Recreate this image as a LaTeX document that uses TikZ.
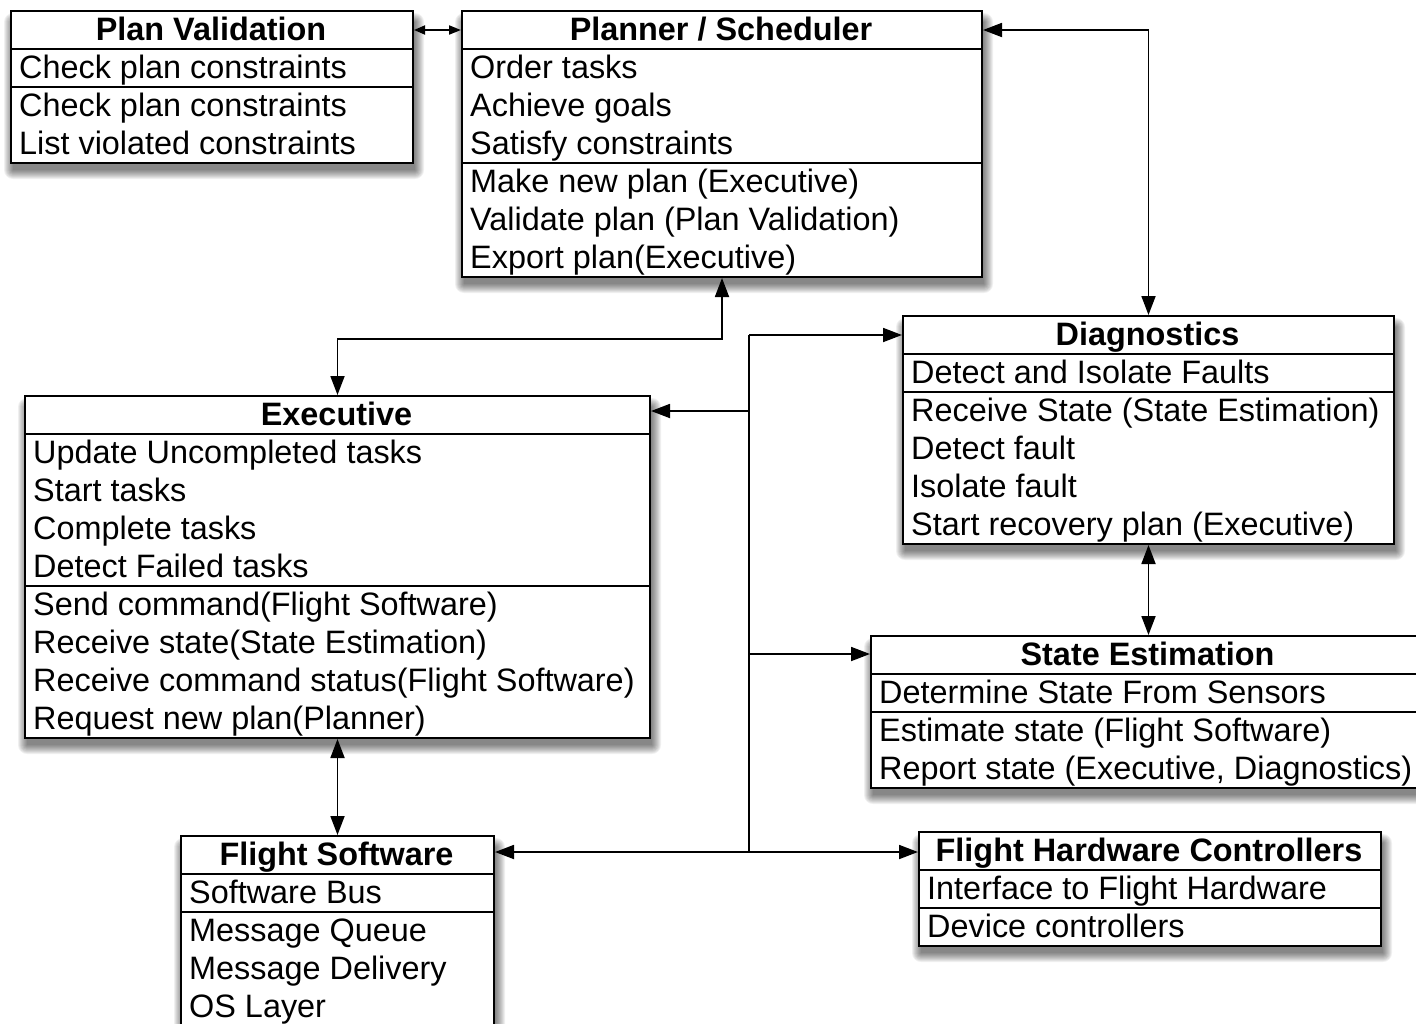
\documentclass[tikz,border=0pt]{standalone}
\usepackage{fontspec}
\setmainfont{Liberation Sans}
\usetikzlibrary{arrows.meta,calc}

\tikzset{
  comp/.style={draw=black, line width=2pt, fill=white, rectangle, anchor=north west, inner sep=0pt},
  hdrtxt/.style={font=\bfseries, anchor=base, inner sep=0pt},
  rowtxt/.style={anchor=base west, inner sep=0pt},
  wire/.style={line width=1.8pt},
  conn/.style={wire, {Triangle[length=19pt,width=14pt]}-{Triangle[length=19pt,width=14pt]}},
  connone/.style={wire, -{Triangle[length=19pt,width=14pt]}},
  connsmall/.style={wire, {Triangle[length=11pt,width=9pt]}-{Triangle[length=12pt,width=9pt]}},
}

% #1 name, #2 left, #3 right, #4 top, #5 rows in part a, #6 rows in part b, #7 title, #8 rows a, #9 rows b
\newcommand\umlbox[9]{%
  \pgfmathsetmacro\ww{#3-#2}%
  \pgfmathsetmacro\ya{#4+38}%
  \pgfmathsetmacro\yb{#4+38*(1+#5)}%
  \pgfmathsetmacro\yc{#4+38*(1+#5+#6)}%
  \pgfmathsetmacro\ha{38*#5}%
  \pgfmathsetmacro\hb{38*#6}%
  \foreach \s in {0,...,9}{\fill[black,opacity=0.06,rounded corners=\s pt] ({#2+3-\s},{#4+12-\s}) rectangle ({#3+3+\s},{\yc+8+\s});}
  \node[comp, minimum width=\ww pt, minimum height=38pt] (#1h) at (#2,#4) {};
  \node[comp, minimum width=\ww pt, minimum height=\ha pt] (#1a) at (#2,\ya) {};
  \node[comp, minimum width=\ww pt, minimum height=\hb pt] (#1b) at (#2,\yb) {};
  \node[hdrtxt] (#1t) at ({(#2+#3)/2},{#4+30}) {#7};
  \foreach \t [count=\k from 0] in {#8} {\node[rowtxt] (#1a\k) at ({#2+9},{\ya+30+38*\k}) {\t};}
  \foreach \t [count=\k from 0] in {#9} {\node[rowtxt] (#1b\k) at ({#2+9},{\yb+30+38*\k}) {\t};}
}

\begin{document}
\begin{tikzpicture}[x=1pt,y=-1pt]
\useasboundingbox (0,0) rectangle (1416,1023);
\fill[white] (0,0) rectangle (1416,1023);
\clip (0,0) rectangle (1416,1023);
\fontsize{32.4}{38}\selectfont

\umlbox{pv}{10}{412}{10}{1}{2}{Plan Validation}{Check plan constraints}{Check plan constraints, List violated constraints}
\umlbox{ps}{461}{981}{10}{3}{3}{Planner / Scheduler}{Order tasks, Achieve goals, Satisfy constraints}{Make new plan (Executive), Validate plan (Plan Validation), Export plan(Executive)}
\umlbox{dg}{902}{1393}{315}{1}{4}{Diagnostics}{Detect and Isolate Faults}{Receive State (State Estimation), Detect fault, Isolate fault, Start recovery plan (Executive)}
\umlbox{ex}{24}{649}{395}{4}{4}{Executive}{Update Uncompleted tasks, Start tasks, Complete tasks, Detect Failed tasks}{Send command(Flight Software), Receive state(State Estimation), Receive command status(Flight Software), Request new plan(Planner)}
\umlbox{se}{870}{1425}{635}{1}{2}{State Estimation}{Determine State From Sensors}{Estimate state (Flight Software), {Report state (Executive, Diagnostics)}}
\umlbox{fs}{180}{493}{835}{1}{3}{Flight Software}{Software Bus}{Message Queue, Message Delivery, OS Layer}
\umlbox{fhc}{918}{1380}{831}{1}{1}{Flight Hardware Controllers}{Interface to Flight Hardware}{Device controllers}

% connectors
\draw[connsmall] (pvh.east) -- (psh.west);
\draw[conn] (psh.east) -| (dgh.north);
\coordinate (k1) at (721,339);
\draw[conn] (psb.south) -- (psb.south |- k1) -| (exh.north);
\draw[conn] (dgb.south) -- (dgb.south |- seh.north);
\draw[conn] (exb.south) -- (exb.south |- fsh.north);

% bus
\coordinate (bt) at (749,335);
\coordinate (be) at (749,411);
\coordinate (bs) at (749,654);
\coordinate (bb) at (749,852);
\draw[wire] (bt) -- (bb);
\draw[connone] (bt) -- (bt -| dgh.west);
\draw[connone] (be) -- (be -| exh.east);
\draw[connone] (bs) -- (bs -| seh.west);
\draw[connone] (bb) -- (bb -| fsh.east);
\draw[connone] (bb) -- (bb -| fhch.west);
\end{tikzpicture}
\end{document}
